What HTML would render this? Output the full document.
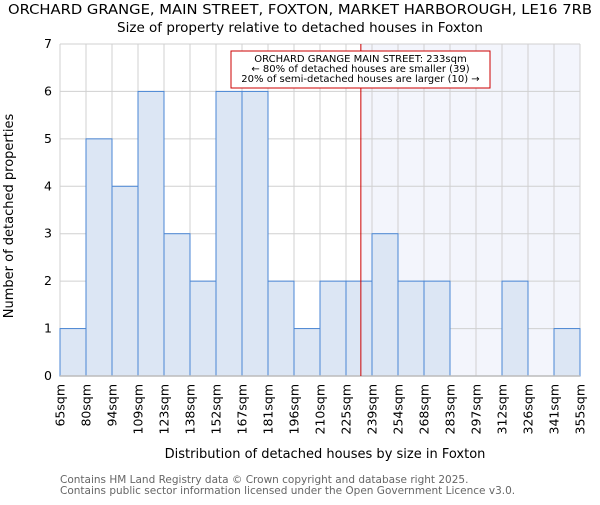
<!DOCTYPE html>
<html><head><meta charset="utf-8"><style>
body{margin:0;background:#fff;}
svg text{font-family:"DejaVu Sans","Liberation Sans",sans-serif;}
</style></head><body>
<svg id="c" width="600" height="500" xmlns="http://www.w3.org/2000/svg">
<text x="300" y="14" text-anchor="middle" font-size="13.5" textLength="584" lengthAdjust="spacingAndGlyphs" fill="#000">ORCHARD GRANGE, MAIN STREET, FOXTON, MARKET HARBOROUGH, LE16 7RB</text>
<text x="300" y="32" text-anchor="middle" font-size="13.5" fill="#000">Size of property relative to detached houses in Foxton</text>
<g id="plot"></g>
<text x="325" y="458" text-anchor="middle" font-size="13">Distribution of detached houses by size in Foxton</text>
<text transform="translate(13,216) rotate(-90)" text-anchor="middle" font-size="13">Number of detached properties</text>
<text x="60" y="483" font-size="10.5" fill="#666">Contains HM Land Registry data © Crown copyright and database right 2025.</text>
<text x="60" y="494" font-size="10.5" fill="#666">Contains public sector information licensed under the Open Government Licence v3.0.</text>
</svg>
<script>
const binLabels=["65sqm","80sqm","94sqm","109sqm","123sqm","138sqm","152sqm","167sqm","181sqm","196sqm","210sqm","225sqm","239sqm","254sqm","268sqm","283sqm","297sqm","312sqm","326sqm","341sqm","355sqm"];
const binEdges=[65,80,94,109,123,138,152,167,181,196,210,225,239,254,268,283,297,312,326,341,355];
const counts=[1,5,4,6,3,2,6,6,2,1,2,2,3,2,2,0,0,2,0,1];
const yTicks=[0,1,2,3,4,5,6,7];
const markerValue=233;
const NS="http://www.w3.org/2000/svg";
const L=60,R=580,T=44,B=376,n=counts.length,bw=(R-L)/n;
const xi=i=>L+i*bw;
const xv=v=>{for(let i=0;i<binEdges.length-1;i++){if(v<=binEdges[i+1])return xi(i)+bw*(v-binEdges[i])/(binEdges[i+1]-binEdges[i]);}return R;};
const y=v=>B-(B-T)*v/7;
const g=document.getElementById('plot');
function mk(t,a){const e=document.createElementNS(NS,t);for(const k in a)e.setAttribute(k,a[k]);g.appendChild(e);return e;}
const mx=xv(markerValue);
let e=mk('rect',{x:mx,y:T,width:R-mx,height:B-T,fill:'#f3f5fc'});


for(let i=0;i<=n;i++){e=mk('line',{x1:xi(i),x2:xi(i),y1:T,y2:B,stroke:'#d0d0d0','stroke-width':1});

}
yTicks.forEach(t=>{e=mk('line',{x1:L,x2:R,y1:y(t),y2:y(t),stroke:'#d0d0d0','stroke-width':1});


e=mk('text',{x:L-8,y:y(t)+4,'text-anchor':'end','font-size':12.5});e.textContent=t;

});
counts.forEach((c,i)=>{if(c<=0)return;e=mk('rect',{x:xi(i),y:y(c),width:bw,height:y(0)-y(c),fill:'#dce6f4',stroke:'#4a86d4','stroke-width':1});

});
e=mk('line',{x1:L,x2:R,y1:B,y2:B,stroke:'#bbb','stroke-width':1.5});


binLabels.forEach((l,i)=>{const x=xi(i);e=mk('text',{transform:`translate(${x+4.5},384) rotate(-90)`,'text-anchor':'end','font-size':12.5});e.textContent=l;

});
e=mk('line',{x1:mx,x2:mx,y1:T,y2:B,stroke:'#cc0000','stroke-width':1});


e=mk('rect',{x:231,y:51,width:259,height:37,fill:'#fff',stroke:'#cc0000','stroke-width':1});


["ORCHARD GRANGE MAIN STREET: 233sqm","← 80% of detached houses are smaller (39)","20% of semi-detached houses are larger (10) →"].forEach((s,k)=>{e=mk('text',{x:360.5,y:62+k*10,'text-anchor':'middle','font-size':10});e.textContent=s;

});
</script>
</body></html>
